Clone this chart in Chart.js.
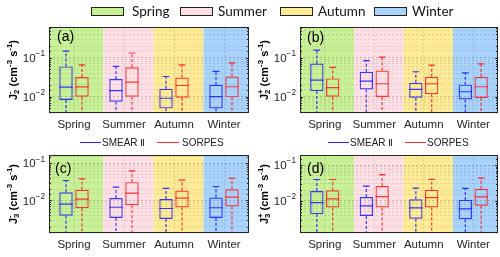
<!DOCTYPE html>
<html><head><meta charset="utf-8">
<script src="https://cdn.jsdelivr.net/npm/chart.js@4"></script>
<style>
body{margin:0;width:500px;height:257px;background:#fff;position:relative;overflow:hidden;font-family:'Liberation Sans',Arial,sans-serif}
canvas{position:absolute;display:block}
.patch{position:absolute;top:7px;width:33px;height:9px;border:1px solid #222;box-sizing:border-box}
.ltx{position:absolute;top:2px;font-family:Lato,'Liberation Sans',sans-serif;font-size:13.5px;color:#111;line-height:18px}
.ln{position:absolute;height:0;border-top:1px solid}
.ltx2{position:absolute;font-size:10px;color:#222;line-height:12px}
</style></head><body>
<canvas id="ca" width="250" height="130" style="left:0;top:0"></canvas>
<canvas id="cb" width="250" height="130" style="left:250px;top:0"></canvas>
<canvas id="cc" width="250" height="127" style="left:0;top:130px"></canvas>
<canvas id="cd" width="250" height="127" style="left:250px;top:130px"></canvas>

<div class="patch" style="left:91px;background:#c8f096"></div><div class="ltx" style="left:132px">Spring</div>
<div class="patch" style="left:180px;background:#ffdfe6"></div><div class="ltx" style="left:218px">Summer</div>
<div class="patch" style="left:280px;background:#ffeb96"></div><div class="ltx" style="left:318px">Autumn</div>
<div class="patch" style="left:374px;background:#a9d2fc"></div><div class="ltx" style="left:412px">Winter</div>

<div class="ln" style="left:80px;top:142px;width:21px;border-color:#2a2aff"></div><div class="ltx2" style="left:102px;top:137px">SMEAR Ⅱ</div>
<div class="ln" style="left:157px;top:142px;width:22px;border-color:#ff2a2a"></div><div class="ltx2" style="left:182px;top:137px">SORPES</div>
<div class="ln" style="left:328px;top:142px;width:21px;border-color:#2a2aff"></div><div class="ltx2" style="left:350px;top:137px">SMEAR Ⅱ</div>
<div class="ln" style="left:405px;top:142px;width:21px;border-color:#ff2a2a"></div><div class="ltx2" style="left:427px;top:137px">SORPES</div>

<script>
const seasons = ['Spring','Summer','Autumn','Winter'];
const bandColors = ['#c8f096','#ffdfe6','#ffeb96','#a9d2fc'];

// Panel (a) J-2
const aSmearQ1  = [0.0082, 0.0074, 0.0050, 0.0050];
const aSmearMed = [0.0176, 0.0143, 0.0091, 0.0100];
const aSmearQ3  = [0.060, 0.0284, 0.0159, 0.0202];
const aSmearHi  = [0.149, 0.060, 0.033, 0.0448];
const aSmearLo  = [0.002, 0.002, 0.002, 0.002];
const aSorpQ1   = [0.0100, 0.0100, 0.0094, 0.0096];
const aSorpMed  = [0.0179, 0.0237, 0.0194, 0.0180];
const aSorpQ3   = [0.032, 0.057, 0.031, 0.033];
const aSorpHi   = [0.066, 0.133, 0.066, 0.074];
const aSorpLo   = [0.002, 0.002, 0.002, 0.002];

// Panel (b) J+2
const bSmearQ1  = [0.0139, 0.0154, 0.0094, 0.0085];
const bSmearMed = [0.0267, 0.0250, 0.0154, 0.0134];
const bSmearQ3  = [0.071, 0.0437, 0.0229, 0.0204];
const bSmearHi  = [0.157, 0.085, 0.0437, 0.041];
const bSmearLo  = [0.002, 0.002, 0.002, 0.002];
const bSorpQ1   = [0.0100, 0.0098, 0.0115, 0.0092];
const bSorpMed  = [0.0170, 0.0215, 0.0215, 0.0180];
const bSorpQ3   = [0.0295, 0.047, 0.0326, 0.0326];
const bSorpHi   = [0.057, 0.104, 0.0646, 0.070];
const bSorpLo   = [0.002, 0.002, 0.002, 0.002];

// Panel (c) J-3
const cSmearQ1  = [0.0039, 0.0034, 0.0032, 0.0034];
const cSmearMed = [0.0080, 0.0066, 0.0061, 0.0064];
const cSmearQ3  = [0.0167, 0.0116, 0.0109, 0.0120];
const cSmearHi  = [0.0343, 0.0228, 0.0210, 0.0237];
const cSmearLo  = [0.0008, 0.0008, 0.0008, 0.0008];
const cSorpQ1   = [0.0062, 0.0075, 0.0065, 0.0069];
const cSorpMed  = [0.0109, 0.0157, 0.0116, 0.0123];
const cSorpQ3   = [0.0193, 0.031, 0.0185, 0.0200];
const cSorpHi   = [0.038, 0.0624, 0.035, 0.039];
const cSorpLo   = [0.0008, 0.0008, 0.0008, 0.0008];

// Panel (d) J+3
const dSmearQ1  = [0.0043, 0.0038, 0.0032, 0.0031];
const dSmearMed = [0.0090, 0.0073, 0.0064, 0.0060];
const dSmearQ3  = [0.0188, 0.0129, 0.0111, 0.0107];
const dSmearHi  = [0.0395, 0.0259, 0.0228, 0.0223];
const dSmearLo  = [0.0008, 0.0008, 0.0008, 0.0008];
const dSorpQ1   = [0.0066, 0.0066, 0.0066, 0.0074];
const dSorpMed  = [0.0114, 0.0132, 0.0124, 0.0129];
const dSorpQ3   = [0.0197, 0.0259, 0.0205, 0.0219];
const dSorpHi   = [0.0395, 0.054, 0.040, 0.0438];
const dSorpLo   = [0.0008, 0.0008, 0.0008, 0.0008];

const BLUE = 'rgba(25,25,255,0.85)';
const RED = 'rgba(255,25,25,0.85)';
const bandEdge = 0.59;
const FONT = '"Liberation Sans", Arial, sans-serif';

const isDecade = v => Math.abs(Math.log10(v) - Math.round(Math.log10(v))) < 1e-6;

const bandPlugin = {
  id: 'bands',
  beforeDraw(chart) {
    const {ctx, chartArea: a, scales: {x}} = chart;
    ctx.save();
    for (let i = 0; i < seasons.length; i++) {
      const l = i === 0 ? a.left : x.getPixelForValue(i - 1 + bandEdge);
      const r = i === seasons.length - 1 ? a.right : x.getPixelForValue(i + bandEdge);
      ctx.fillStyle = bandColors[i];
      ctx.fillRect(l, a.top, r - l, a.bottom - a.top);
    }
    ctx.restore();
  }
};

const boxPlugin = {
  id: 'boxes',
  afterDatasetsDraw(chart) {
    const {ctx, chartArea: a, scales: {y}} = chart;
    ctx.save();
    ctx.beginPath(); ctx.rect(a.left, a.top, a.right - a.left, a.bottom - a.top); ctx.clip();
    chart.data.datasets.forEach((ds, di) => {
      const meta = chart.getDatasetMeta(di);
      meta.data.forEach((el, i) => {
        const x = el.x, w = el.width;
        const [q1, q3] = ds.data[i];
        ctx.strokeStyle = ds.borderColor;
        ctx.lineWidth = 1.2;
        ctx.setLineDash([]);
        ctx.beginPath();
        ctx.moveTo(x - w / 2, y.getPixelForValue(ds.med[i]));
        ctx.lineTo(x + w / 2, y.getPixelForValue(ds.med[i]));
        ctx.moveTo(x - w / 4, y.getPixelForValue(ds.hi[i]));
        ctx.lineTo(x + w / 4, y.getPixelForValue(ds.hi[i]));
        ctx.moveTo(x - w / 4, y.getPixelForValue(ds.lo[i]));
        ctx.lineTo(x + w / 4, y.getPixelForValue(ds.lo[i]));
        ctx.stroke();
        ctx.setLineDash([3, 2]);
        ctx.beginPath();
        ctx.moveTo(x, y.getPixelForValue(q3));
        ctx.lineTo(x, y.getPixelForValue(ds.hi[i]));
        ctx.moveTo(x, y.getPixelForValue(q1));
        ctx.lineTo(x, y.getPixelForValue(ds.lo[i]));
        ctx.stroke();
      });
    });
    ctx.restore();
  }
};

// draws text runs with superscripts/subscripts along the current x axis of ctx
function richText(ctx, runs, x, y, size, weight) {
  let cx = x;
  runs.forEach(r => {
    const s = r.s === 0 ? size : size * 0.72;
    ctx.font = `${weight} ${s}px ${FONT}`;
    const dy = r.s > 0 ? -size * 0.42 : (r.s < 0 ? size * 0.28 : 0);
    ctx.fillText(r.t, cx, y + dy);
    cx += r.w !== undefined ? r.w * s : ctx.measureText(r.t).width;
  });
  return cx - x;
}
function runsWidth(ctx, runs, size, weight) {
  let w = 0;
  runs.forEach(r => {
    const s = r.s === 0 ? size : size * 0.72;
    ctx.font = `${weight} ${s}px ${FONT}`;
    w += r.w !== undefined ? r.w * s : ctx.measureText(r.t).width;
  });
  return w;
}

const framePlugin = {
  id: 'frame',
  afterDraw(chart, args, opts) {
    const {ctx, chartArea: a, scales: {y}} = chart;
    ctx.save();
    // inner ticks on left and right edges
    ctx.strokeStyle = '#262626';
    ctx.lineWidth = 1;
    ctx.beginPath();
    y.ticks.forEach(t => {
      const py = Math.round(y.getPixelForValue(t.value)) + 0.5;
      if (py <= a.top + 1 || py >= a.bottom - 1) return;
      const len = isDecade(t.value) ? 3 : 2;
      ctx.moveTo(a.left, py); ctx.lineTo(a.left + len, py);
      ctx.moveTo(a.right, py); ctx.lineTo(a.right - len, py);
    });
    ctx.stroke();
    // frame
    ctx.strokeRect(Math.round(a.left) + 0.5, Math.round(a.top) + 0.5, Math.round(a.right - a.left) - 1, Math.round(a.bottom - a.top) - 1);
    // panel label
    ctx.fillStyle = '#000';
    ctx.font = `14px ${FONT}`;
    ctx.textBaseline = 'middle';
    ctx.textAlign = 'left';
    ctx.fillText(opts.label, a.left + opts.dx, a.top + opts.dy);
    // decade tick labels 10^n
    ctx.fillStyle = '#262626';
    ctx.textBaseline = 'middle';
    y.ticks.forEach(t => {
      if (!isDecade(t.value)) return;
      const py = y.getPixelForValue(t.value);
      const runs = [{t: '10', s: 0}, {t: String(Math.round(Math.log10(t.value))).replace('-', '\u2212'), s: 1}];
      const w = runsWidth(ctx, runs, 11.5, 'normal');
      richText(ctx, runs, a.left - 4 - w, py + 1, 11.5, 'normal');
    });
    // axis title, rotated
    const runs = opts.title;
    const tw = runsWidth(ctx, runs, 11, 'bold');
    ctx.translate(opts.tx, (a.top + a.bottom) / 2);
    ctx.rotate(-Math.PI / 2);
    ctx.fillStyle = '#000';
    richText(ctx, runs, -tw / 2, 0, 11, 'bold');
    ctx.restore();
  }
};

function makeChart(id, label, title, ymin, ymax, sm, so, layout) {
  const mk = (name, col, s) => ({
    label: name,
    data: s.q1.map((v, i) => [v, s.q3[i]]),
    med: s.med, hi: s.hi, lo: s.lo,
    backgroundColor: 'rgba(0,0,0,0)',
    borderColor: col,
    borderWidth: 1.2,
    borderSkipped: false,
    categoryPercentage: 0.64,
    barPercentage: 0.84
  });
  return new Chart(document.getElementById(id), {
    type: 'bar',
    data: { labels: seasons, datasets: [mk('SMEAR Ⅱ', BLUE, sm), mk('SORPES', RED, so)] },
    options: {
      responsive: false,
      animation: false,
      layout: { padding: { top: layout.top, right: layout.right, left: 0, bottom: 0 } },
      plugins: { legend: { display: false }, tooltip: { enabled: false },
        frame: { label: label, dx: layout.dx, dy: layout.dy, title: title, tx: layout.tx } },
      scales: {
        x: {
          offset: true,
          grid: { display: true, offset: false, drawTicks: false, color: 'rgba(0,0,0,0.12)' },
          border: { display: false, dash: [2, 2] },
          ticks: { color: '#262626', padding: 5, font: { family: FONT, size: 11.5 } },
          afterFit: s => { s.height = layout.xh; }
        },
        y: {
          type: 'logarithmic',
          min: ymin, max: ymax,
          grid: { drawTicks: false, color: c => (c.tick && isDecade(c.tick.value)) ? 'rgba(0,0,0,0.2)' : 'rgba(0,0,0,0.11)' },
          border: { display: false, dash: [2, 2] },
          ticks: { autoSkip: false, display: true, callback: () => '' },
          afterFit: s => { s.width = layout.yw; }
        }
      }
    },
    plugins: [bandPlugin, boxPlugin, framePlugin]
  });
}

const titleMinus2 = [{t:'J',s:0},{t:'-',s:1,w:0},{t:'2',s:-1},{t:' (cm',s:0},{t:'-3',s:1},{t:' s',s:0},{t:'-1',s:1},{t:')',s:0}];
const titlePlus2  = [{t:'J',s:0},{t:'+',s:1,w:0},{t:'2',s:-1},{t:' (cm',s:0},{t:'-3',s:1},{t:' s',s:0},{t:'-1',s:1},{t:')',s:0}];
const titleMinus3 = [{t:'J',s:0},{t:'-',s:1,w:0},{t:'3',s:-1},{t:' (cm',s:0},{t:'-3',s:1},{t:' s',s:0},{t:'-1',s:1},{t:')',s:0}];
const titlePlus3  = [{t:'J',s:0},{t:'+',s:1,w:0},{t:'3',s:-1},{t:' (cm',s:0},{t:'-3',s:1},{t:' s',s:0},{t:'-1',s:1},{t:')',s:0}];

makeChart('ca', '(a)', titleMinus2, 0.0038, 0.62,
  {q1: aSmearQ1, med: aSmearMed, q3: aSmearQ3, hi: aSmearHi, lo: aSmearLo},
  {q1: aSorpQ1, med: aSorpMed, q3: aSorpQ3, hi: aSorpHi, lo: aSorpLo},
  {top: 27, right: 1, xh: 17, yw: 49, dx: 8, dy: 10, tx: 14});
makeChart('cb', '(b)', titlePlus2, 0.0038, 0.62,
  {q1: bSmearQ1, med: bSmearMed, q3: bSmearQ3, hi: bSmearHi, lo: bSmearLo},
  {q1: bSorpQ1, med: bSorpMed, q3: bSorpQ3, hi: bSorpHi, lo: bSorpLo},
  {top: 27, right: 2, xh: 17, yw: 50, dx: 7, dy: 11, tx: 15});
makeChart('cc', '(c)', titleMinus3, 0.00135, 0.165,
  {q1: cSmearQ1, med: cSmearMed, q3: cSmearQ3, hi: cSmearHi, lo: cSmearLo},
  {q1: cSorpQ1, med: cSorpMed, q3: cSorpQ3, hi: cSorpHi, lo: cSorpLo},
  {top: 25, right: 1, xh: 24, yw: 49, dx: 6, dy: 14, tx: 14});
makeChart('cd', '(d)', titlePlus3, 0.00128, 0.19,
  {q1: dSmearQ1, med: dSmearMed, q3: dSmearQ3, hi: dSmearHi, lo: dSmearLo},
  {q1: dSorpQ1, med: dSorpMed, q3: dSorpQ3, hi: dSorpHi, lo: dSorpLo},
  {top: 25, right: 2, xh: 24, yw: 50, dx: 7, dy: 14, tx: 15});
</script>
</body></html>
